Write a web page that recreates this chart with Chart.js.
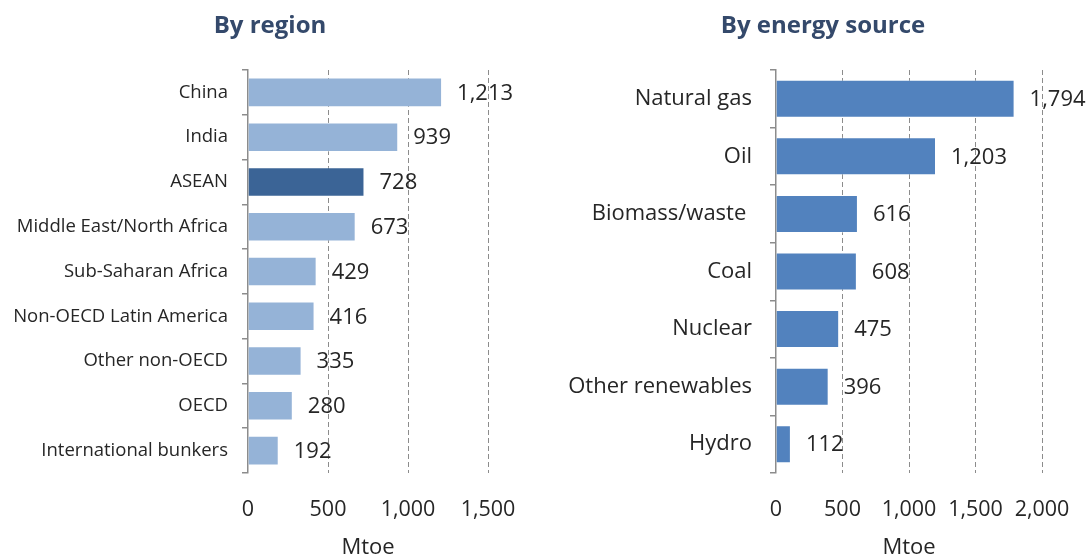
<!DOCTYPE html>
<html>
<head>
<meta charset="utf-8">
<script src="https://cdn.jsdelivr.net/npm/chart.js@4.4.1/dist/chart.umd.min.js"></script>
<style>
  body { margin: 0; background: #fff; }
  #wrap { position: relative; width: 1088px; height: 559px; }
  .panel { position: absolute; top: 0; width: 544px; height: 559px; }
  .title {
    position: absolute; top: 7px; font-family: 'Open Sans', sans-serif;
    font-weight: bold; font-size: 24px; color: #34496b; white-space: nowrap;
    transform: translateX(-50%);
  }
</style>
</head>
<body>
<div id="wrap">
  <div class="panel" style="left:0"><canvas id="region-chart" width="544" height="559"></canvas></div>
  <div class="panel" style="left:544px"><canvas id="source-chart" width="544" height="559"></canvas></div>
  <div class="title" style="left:270px">By region</div>
  <div class="title" style="left:823px">By energy source</div>
</div>
<script>
const regions = ['China', 'India', 'ASEAN', 'Middle East/North Africa', 'Sub-Saharan Africa',
  'Non-OECD Latin America', 'Other non-OECD', 'OECD', 'International bunkers'];
const regionValues = [1213, 939, 728, 673, 429, 416, 335, 280, 192];

const sources = ['Natural gas', 'Oil', 'Biomass/waste ', 'Coal', 'Nuclear', 'Other renewables', 'Hydro'];
const sourceValues = [1794, 1203, 616, 608, 475, 396, 112];

const regionTicks = [0, 500, 1000, 1500];
const sourceTicks = [0, 500, 1000, 1500, 2000];

const FONT = "'Open Sans', sans-serif";
const TEXT = '#262626';
const AXIS = '#8c8c8c';

const fmt = v => Number(v).toLocaleString('en-US');

// value labels at the end of each bar
const valueLabels = {
  id: 'valueLabels',
  afterDatasetsDraw(chart, args, opts) {
    const ctx = chart.ctx;
    const meta = chart.getDatasetMeta(0);
    const data = chart.data.datasets[0].data;
    ctx.save();
    ctx.font = `${opts.size}px ${FONT}`;
    ctx.fillStyle = TEXT;
    ctx.textAlign = 'left';
    ctx.textBaseline = 'middle';
    meta.data.forEach((bar, i) => {
      ctx.fillText(fmt(data[i]), bar.x + opts.offset, bar.y + 1);
    });
    ctx.restore();
  }
};

const makeChart = (id, labels, values, colors, tickValues, opts) => {
  const ctx = document.getElementById(id).getContext('2d');
  return new Chart(ctx, {
    type: 'bar',
    data: {
      labels: labels,
      datasets: [{
        data: values,
        backgroundColor: colors,
        borderColor: 'rgba(255,255,255,0.35)',
        borderWidth: 1,
        barPercentage: 0.66,
        categoryPercentage: 1
      }]
    },
    options: {
      indexAxis: 'y',
      responsive: false,
      animation: false,
      devicePixelRatio: 1,
      layout: { padding: { top: 70, right: opts.padRight, left: 0, bottom: 0 } },
      scales: {
        x: {
          min: tickValues[0],
          max: tickValues[tickValues.length - 1],
          afterBuildTicks: scale => { scale.ticks = tickValues.map(v => ({ value: v })); },
          afterFit: scale => { scale.height = 86; },
          grid: {
            color: c => (c.tick && c.tick.value === 0 ? 'rgba(0,0,0,0)' : AXIS),
            lineWidth: 1,
            // invisible tick marks only push the labels down
            drawTicks: true,
            tickLength: 24,
            tickColor: 'rgba(0,0,0,0)'
          },
          border: { display: false, dash: [5, 3] },
          ticks: {
            padding: 0,
            color: TEXT,
            font: { family: FONT, size: 21.5 },
            maxRotation: 0,
            callback: v => fmt(v)
          },
          title: {
            display: true,
            text: 'Mtoe',
            color: TEXT,
            font: { family: FONT, size: 22 },
            padding: { top: 0, bottom: -2 }
          }
        },
        y: {
          afterFit: scale => { scale.width = opts.axisX; },
          grid: {
            drawOnChartArea: false,
            drawTicks: true,
            tickLength: 6,
            color: AXIS,
            lineWidth: 1.5
          },
          border: { display: true, color: AXIS, width: 1.5 },
          ticks: {
            padding: opts.labelPad,
            color: TEXT,
            font: { family: FONT, size: opts.catSize },
            autoSkip: false
          }
        }
      },
      plugins: {
        legend: { display: false },
        tooltip: { enabled: false },
        valueLabels: { size: 22, offset: opts.valueOffset }
      }
    },
    plugins: [valueLabels]
  });
};

// ASEAN is highlighted in the regional breakdown
const regionColors = regions.map(r => (r === 'ASEAN' ? '#3b6496' : '#95b3d7'));
const sourceColors = sources.map(() => '#5282be');

makeChart('region-chart', regions, regionValues, regionColors, regionTicks,
  { axisX: 248, padRight: 56, labelPad: 14, catSize: 18.5, valueOffset: 15 });
makeChart('source-chart', sources, sourceValues, sourceColors, sourceTicks,
  { axisX: 232, padRight: 46, labelPad: 18, catSize: 22, valueOffset: 15 });
</script>
</body>
</html>
